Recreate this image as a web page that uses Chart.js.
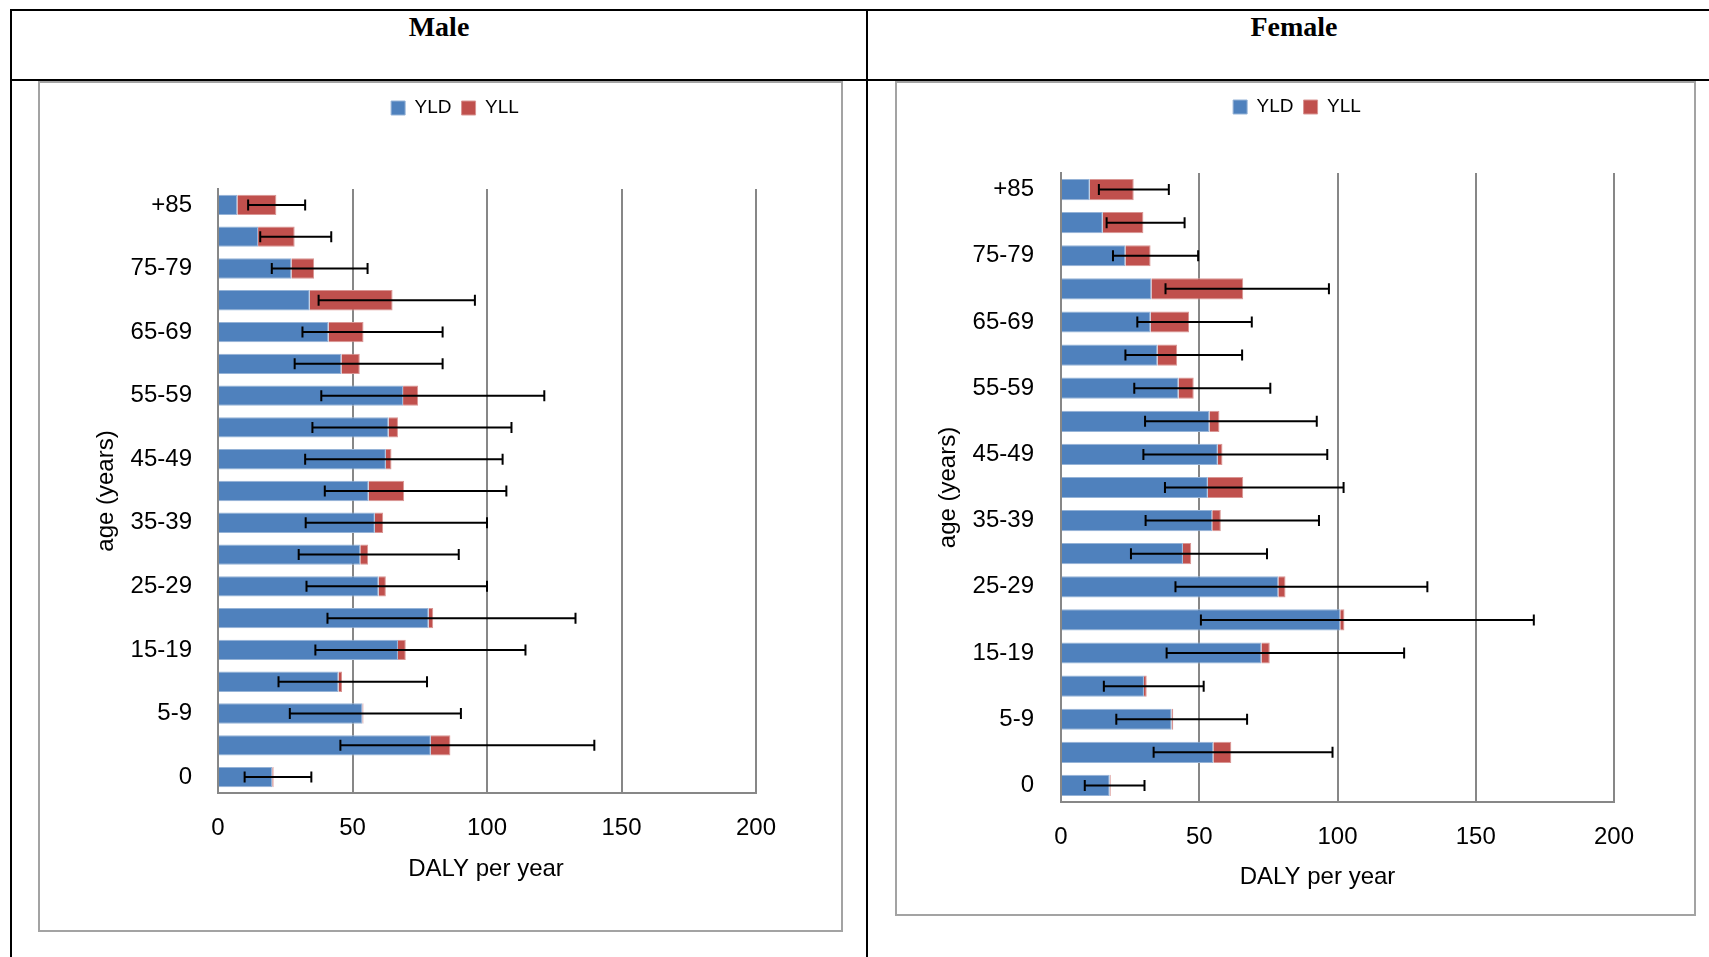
<!DOCTYPE html>
<html>
<head>
<meta charset="utf-8">
<script src="https://cdn.jsdelivr.net/npm/chart.js@4.4.1/dist/chart.umd.min.js"></script>
<style>
  body { margin: 0; background: #fff; }
  #page { position: relative; width: 1709px; height: 957px; overflow: hidden; }
  .line { position: absolute; background: #000; }
  .box { position: absolute; border: 2px solid #a3a3a3; box-sizing: border-box; }
  .head { position: absolute; font: bold 28px 'Liberation Serif', serif; color: #000; transform: translate(-50%, -50%); white-space: nowrap; }
  canvas { position: absolute; }
</style>
</head>
<body>
<div id="page">
  <div class="line" style="left:10px;top:9px;width:1699px;height:2px"></div>
  <div class="line" style="left:10px;top:79px;width:1699px;height:2px"></div>
  <div class="line" style="left:10px;top:9px;width:2px;height:948px"></div>
  <div class="line" style="left:866px;top:9px;width:2px;height:948px"></div>
  <div class="head" style="left:439px;top:27px">Male</div>
  <div class="head" style="left:1294px;top:27px">Female</div>
  <div class="box" style="left:38px;top:81px;width:805px;height:851px"></div>
  <div class="box" style="left:895px;top:81px;width:801px;height:835px"></div>
  <canvas id="maleChart" width="801" height="847" style="left:40px;top:83px"></canvas>
  <canvas id="femaleChart" width="797" height="831" style="left:897px;top:83px"></canvas>
</div>
<script>
// Tranches d'âge, de la plus jeune à la plus âgée
const ageGroups = ['0', '1-4', '5-9', '10-14', '15-19', '20-24', '25-29', '30-34', '35-39', '40-44',
  '45-49', '50-54', '55-59', '60-64', '65-69', '70-74', '75-79', '80-84', '+85'];
const xTicks = [0, 50, 100, 150, 200];

// Hommes
const maleYLD = [20.2, 79.1, 53.7, 44.8, 66.9, 78.3, 59.7, 52.9, 58.3, 56.0, 62.4, 63.4, 68.8, 45.9, 41.1, 34.1, 27.3, 14.9, 7.2];
const maleYLL = [0.5, 7.3, 0.4, 1.3, 2.9, 1.7, 2.7, 2.9, 3.1, 13.2, 2.1, 3.5, 5.6, 6.8, 13.0, 30.8, 8.4, 13.6, 14.5];
const maleLow = [9.9, 45.5, 26.7, 22.5, 36.2, 40.7, 32.9, 30.0, 32.6, 39.7, 32.4, 35.1, 38.4, 28.5, 31.4, 37.4, 20.0, 15.7, 11.2];
const maleHigh = [34.7, 139.9, 90.3, 77.7, 114.3, 132.9, 100.0, 89.5, 100.0, 107.2, 105.8, 109.1, 121.3, 83.5, 83.5, 95.5, 55.6, 42.1, 32.4];

// Femmes
const femaleYLD = [17.6, 55.1, 40.0, 30.0, 72.5, 101.0, 78.6, 44.1, 54.7, 53.1, 56.7, 53.7, 42.5, 34.9, 32.4, 32.7, 23.3, 15.1, 10.4];
const femaleYLL = [0.4, 6.5, 0.6, 1.0, 3.0, 1.5, 2.6, 3.0, 3.1, 12.8, 1.7, 3.6, 5.5, 7.1, 13.9, 33.2, 9.1, 14.7, 15.9];
const femaleLow = [8.6, 33.5, 20.0, 15.5, 38.2, 50.6, 41.4, 25.3, 30.6, 37.6, 29.8, 30.4, 26.5, 23.3, 27.6, 37.8, 18.8, 16.5, 13.7];
const femaleHigh = [30.2, 98.2, 67.3, 51.6, 124.1, 171.0, 132.5, 74.5, 93.3, 102.2, 96.3, 92.5, 75.7, 65.5, 69.0, 96.9, 49.6, 44.7, 39.0];

Chart.defaults.font.family = "'Liberation Sans', Arial, sans-serif";
Chart.defaults.color = '#000';

const GRID = '#878787';

// Barres d'erreur (min - max) dessinées sur les échelles du graphique
const errorBars = {
  id: 'errorBars',
  afterDatasetsDraw(chart, args, opts) {
    const { ctx, scales: { x, y } } = chart;
    ctx.save();
    ctx.strokeStyle = '#000';
    ctx.lineWidth = 2;
    opts.low.forEach((lo, i) => {
      const py = y.getPixelForValue(i);
      const x0 = x.getPixelForValue(lo);
      const x1 = x.getPixelForValue(opts.high[i]);
      ctx.beginPath();
      ctx.moveTo(x0, py); ctx.lineTo(x1, py);
      ctx.moveTo(x0, py - 5.5); ctx.lineTo(x0, py + 5.5);
      ctx.moveTo(x1, py - 5.5); ctx.lineTo(x1, py + 5.5);
      ctx.stroke();
    });
    ctx.restore();
  }
};

// Place la légende au centre du cadre, comme dans Excel
const legendPlacer = {
  id: 'legendPlacer',
  afterLayout(chart, args, opts) {
    const lg = chart.legend;
    const dx = opts.cx - (lg.left + lg.right) / 2;
    lg.left += dx;
    lg.right += dx;
    const h = lg.height;
    lg.top = opts.cy - 10 - 9.5;
    lg.bottom = lg.top + h;
  }
};

// Titre de l'axe X (Excel ne le centre pas toujours sur la zone de tracé)
const xAxisTitle = {
  id: 'xAxisTitle',
  afterDraw(chart, args, opts) {
    const { ctx, chartArea } = chart;
    ctx.save();
    ctx.font = "24px 'Liberation Sans', Arial, sans-serif";
    ctx.fillStyle = '#000';
    ctx.textAlign = 'center';
    ctx.textBaseline = 'middle';
    const cx = (chartArea.left + chartArea.right) / 2 + opts.dx;
    ctx.fillText(opts.text, cx, chartArea.bottom + opts.dy);
    ctx.restore();
  }
};

function makeChart(id, yld, yll, low, high, lay) {
  const ctx = document.getElementById(id).getContext('2d');
  return new Chart(ctx, {
    type: 'bar',
    data: {
      labels: ageGroups,
      datasets: [
        { label: 'YLD', data: yld, backgroundColor: '#4F81BD', borderColor: '#95B3D7', borderWidth: 1,
          barPercentage: 0.64, categoryPercentage: 1 },
        { label: 'YLL', data: yll, backgroundColor: '#C0504D', borderColor: '#D99694', borderWidth: 1,
          barPercentage: 0.64, categoryPercentage: 1 }
      ]
    },
    options: {
      indexAxis: 'y',
      responsive: false,
      animation: false,
      devicePixelRatio: 1,
      layout: { padding: { top: lay.padTop, right: lay.padRight, bottom: 0, left: 0 } },
      scales: {
        x: {
          stacked: true,
          min: 0,
          max: 200,
          afterBuildTicks: s => { s.ticks = xTicks.map(v => ({ value: v })); },
          afterFit: s => { s.height = lay.xHeight; },
          grid: { color: GRID, lineWidth: 2, drawTicks: false },
          border: { color: GRID, width: 2 },
          ticks: { font: { size: 24 }, padding: lay.xTickPad, color: '#000' },
          title: { display: false }
        },
        y: {
          stacked: true,
          reverse: true,
          afterFit: s => { s.width = lay.yWidth; },
          grid: { display: false, drawTicks: false },
          border: { color: GRID, width: 2 },
          ticks: {
            autoSkip: false,
            font: { size: 24 },
            padding: lay.yTickPad,
            color: '#000',
            callback: (v, i) => (i % 2 === 0 ? ageGroups[i] : '')
          },
          title: { display: true, text: 'age (years)', font: { size: 24 }, color: '#000',
                   padding: { top: lay.yTitlePad, bottom: 0 } }
        }
      },
      plugins: {
        legend: {
          position: 'top',
          labels: { boxWidth: 14, boxHeight: 14, padding: 10, font: { size: 19 }, color: '#000' }
        },
        tooltip: { enabled: false },
        legendPlacer: { cx: lay.legendX, cy: lay.legendY },
        errorBars: { low: low, high: high },
        xAxisTitle: { text: 'DALY per year', dx: lay.xTitleDx, dy: lay.xTitleDy }
      }
    },
    plugins: [errorBars, legendPlacer, xAxisTitle]
  });
}

makeChart('maleChart', maleYLD, maleYLL, maleLow, maleHigh, {
  padTop: 67, padRight: 85, yWidth: 178, xHeight: 137,
  yTickPad: 26, yTitlePad: 51.6, xTickPad: 20.6,
  xTitleDx: -1, xTitleDy: 76,
  legendX: 415, legendY: 25
});

makeChart('femaleChart', femaleYLD, femaleYLL, femaleLow, femaleHigh, {
  padTop: 51, padRight: 80, yWidth: 164, xHeight: 112,
  yTickPad: 27, yTitlePad: 37, xTickPad: 20.6,
  xTitleDx: -20, xTitleDy: 75,
  legendX: 400, legendY: 24
});
</script>
</body>
</html>
